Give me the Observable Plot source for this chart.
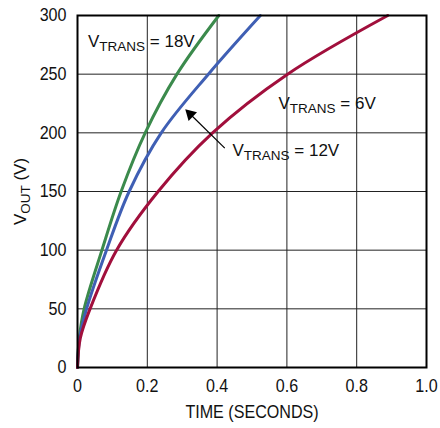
<!DOCTYPE html>
<html>
<head>
<meta charset="utf-8">
<script src="https://cdn.jsdelivr.net/npm/d3@7"></script>
<script src="https://cdn.jsdelivr.net/npm/@observablehq/plot@0.6"></script>
<style>
  html, body { margin: 0; padding: 0; background: #fff; }
  #chart { width: 440px; height: 428px; }
</style>
</head>
<body>
<div id="chart"></div>
<script>
// ---- data ----
const seriesNames = ["18V", "12V", "6V"];
const seriesColors = ["#3b8a4c", "#3f5fb4", "#a10f3c"];

const time18 = [0, 0.005, 0.019, 0.070, 0.125, 0.194, 0.285, 0.405];
const vout18 = [0, 25, 50, 100, 150, 200, 250, 300];

const time12 = [0, 0.006, 0.026, 0.083, 0.148, 0.240, 0.375, 0.524];
const vout12 = [0, 25, 50, 100, 150, 200, 250, 300];

const time6 = [0, 0.008, 0.036, 0.112, 0.231, 0.387, 0.602, 0.889];
const vout6 = [0, 25, 50, 100, 150, 200, 250, 300];

const xTicks = [0, 0.2, 0.4, 0.6, 0.8, 1.0];
const xTickLabels = ["0", "0.2", "0.4", "0.6", "0.8", "1.0"];
const yTicks = [0, 50, 100, 150, 200, 250, 300];
const yTickLabels = ["0", "50", "100", "150", "200", "250", "300"];

const xLabel = "TIME (SECONDS)";
const yLabel = "VOUT (V)";

// annotations (data coordinates)
const labelTexts = ["VTRANS = 18V", "VTRANS = 6V", "VTRANS = 12V"];
const labelX = [0.030, 0.576, 0.444];
const labelY = [278, 225, 185];

const arrowFrom = {x: 0.422, y: 187};
const arrowTo = {x: 0.316, y: 218};

// ---- build table ----
const times = [time18, time12, time6];
const vouts = [vout18, vout12, vout6];
const curves = [];
seriesNames.forEach((name, i) => {
  times[i].forEach((t, j) => curves.push({series: name, t, v: vouts[i][j]}));
});
const labels = labelTexts.map((text, i) => ({text, x: labelX[i], y: labelY[i]}));

const FONT = "'Liberation Sans', Arial, sans-serif";
const NARROW = 0.87;

const plot = Plot.plot({
  width: 440,
  height: 428,
  marginLeft: 77,
  marginRight: 14,
  marginTop: 15,
  marginBottom: 61,
  style: {fontFamily: FONT, fontSize: "18.5px", color: "#111", background: "#fff"},
  x: {domain: [0, 1]},
  y: {domain: [0, 300]},
  color: {domain: seriesNames, range: seriesColors},
  marks: [
    Plot.gridX(xTicks, {stroke: "#222", strokeOpacity: 1, strokeWidth: 1}),
    Plot.gridY(yTicks, {stroke: "#222", strokeOpacity: 1, strokeWidth: 1}),
    Plot.axisX({ticks: xTicks, tickFormat: (d) => xTickLabels[xTicks.indexOf(d)], tickSize: 0, tickPadding: 11,
      label: xLabel, labelAnchor: "center", labelOffset: 50, labelArrow: "none"}),
    Plot.axisY({ticks: yTicks, tickFormat: d => yTickLabels[yTicks.indexOf(d)], tickSize: 0, tickPadding: 11,
      label: yLabel, labelAnchor: "center", labelOffset: 64, labelArrow: "none"}),
    Plot.line(curves, {x: "t", y: "v", z: "series", stroke: "series", strokeWidth: 3, curve: "catmull-rom"}),
    Plot.link([0], {x1: () => arrowFrom.x, y1: () => arrowFrom.y, x2: () => arrowTo.x, y2: () => arrowTo.y,
      stroke: "#000", strokeWidth: 1.2}),
    Plot.dot([0], {x: () => arrowTo.x, y: () => arrowTo.y, symbol: "triangle", r: 4.5, fill: "#000", stroke: "none",
      rotate: -46, dx: 2.5, dy: 2.5}),
    Plot.text(labels, {x: "x", y: "y", text: "text", textAnchor: "start", lineAnchor: "middle", fontSize: 17, fill: "#111"}),
    Plot.frame({stroke: "#000", strokeWidth: 2})
  ]
});

document.getElementById("chart").appendChild(plot);

// condensed look (Helvetica Condensed in the reference) for plain texts
d3.select(plot).selectAll("text").each(function() {
  const t = this.textContent.replace(/[↑→←↓]/g, "").trim();
  if (t !== this.textContent) { d3.select(this).selectAll("*").remove(); d3.select(this).text(t); }
  if (/^V(TRANS|OUT)/.test(t)) return;
  const len = this.getComputedTextLength();
  if (len > 0) {
    this.setAttribute("textLength", (len * NARROW).toFixed(2));
    this.setAttribute("lengthAdjust", "spacingAndGlyphs");
  }
});

// subscripts: V<sub>TRANS</sub>, V<sub>OUT</sub>
d3.select(plot).selectAll("text").each(function() {
  const el = d3.select(this);
  const m = this.textContent.match(/^V(TRANS|OUT)(.*)$/);
  if (!m) return;
  el.text(null).style("font-size", "17px");
  el.append("tspan").text("V");
  el.append("tspan").attr("dy", 4).attr("font-size", "13.5px").text(m[1]);
  el.append("tspan").attr("dy", -4).text(m[2]);
});
</script>
</body>
</html>
